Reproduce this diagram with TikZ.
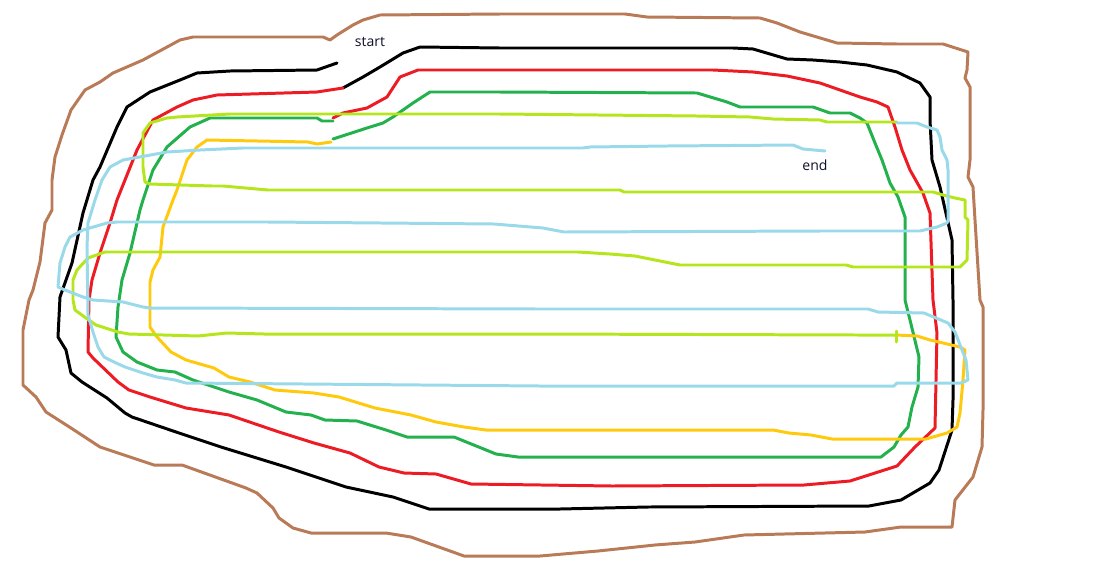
\documentclass[tikz,border=0pt]{standalone}
\usepackage{fontspec}
\setmainfont{Open Sans}
\definecolor{cbrown}{HTML}{B97A57}
\definecolor{cred}{HTML}{ED1C24}
\definecolor{cgreen}{HTML}{22B14C}
\definecolor{cyellow}{HTML}{FFC90E}
\definecolor{clime}{HTML}{B5E61D}
\definecolor{cblue}{HTML}{99D9EA}
\definecolor{ctext}{HTML}{10102A}
\tikzset{
  stroke/.style={line width=1.7pt, line join=round, line cap=round},
  lbl/.style={font=\fontsize{8}{9}\selectfont, text=ctext, inner sep=0pt}
}
\begin{document}
\begin{tikzpicture}[x=0.02cm, y=-0.02cm]
\useasboundingbox (0,0) rectangle (1106,572);
% brown outer loop
\draw[stroke, cbrown] (330,40) -- (337,35) -- (353,25) -- (363,20) -- (380,15) -- (500,14) -- (625,14) -- (647,17) -- (760,18) -- (777,23) -- (800,32) -- (837,43) -- (897,44) -- (943,44) -- (968,52) -- (967,70) -- (965,78) -- (970,87) -- (970,160) -- (968,177) -- (973,187) -- (975,220) -- (980,300) -- (983,307) -- (983,410) -- (982,447) -- (973,477) -- (955,500) -- (952,527) -- (901,527) -- (865,532) -- (744,535) -- (695,542) -- (655,545) -- (598,551) -- (540,556) -- (464,556) -- (411,537) -- (386,533) -- (311,533) -- (293,528) -- (279,518) -- (273,508) -- (257,493) -- (246,488) -- (182,465) -- (154,465) -- (100,447) -- (71,428) -- (46,412) -- (36,397) -- (23,385) -- (23,330) -- (27,310) -- (29,300) -- (33,290) -- (40,262) -- (45,223) -- (52,210) -- (52,180) -- (55,157) -- (62,135) -- (71,110) -- (85,90) -- (100,82) -- (113,73) -- (143,60) -- (180,40) -- (193,37) -- (323,37) -- cycle;
% black
\draw[stroke, black] (337,63) -- (317,70) -- (230,71) -- (197,73) -- (180,80) -- (150,92) -- (127,107) -- (117,127) -- (100,167) -- (93,180) -- (83,213) -- (72,263) -- (60,297) -- (58,337) -- (66,350) -- (71,373) -- (82,382) -- (107,398) -- (125,413) -- (132,417) -- (179,433) -- (221,447) -- (286,467) -- (346,487) -- (393,497) -- (429,509) -- (560,509) -- (648,507) -- (869,506) -- (901,500) -- (930,483) -- (939,470) -- (952,430) -- (953,400) -- (953,300) -- (952,240) -- (940,187) -- (932,160) -- (930,120) -- (930,97) -- (920,83) -- (897,72) -- (867,65) -- (840,62) -- (813,60) -- (787,59) -- (753,49) -- (733,48) -- (500,48) -- (420,47) -- (403,53) -- (380,67) -- (363,77) -- (343,88);
% red
\draw[stroke, cred] (343,88) -- (317,92) -- (217,95) -- (193,100) -- (177,107) -- (153,120) -- (137,150) -- (117,200) -- (110,223) -- (100,253) -- (92,280) -- (89,300) -- (88,352) -- (93,358) -- (118,382) -- (129,390) -- (150,397) -- (186,408) -- (229,415) -- (279,432) -- (314,443) -- (350,453) -- (379,467) -- (404,473) -- (436,474) -- (471,484) -- (612,486) -- (804,485) -- (850,481) -- (897,466) -- (915,447) -- (935,428) -- (937,333) -- (933,300) -- (930,213) -- (923,193) -- (910,170) -- (902,150) -- (895,127) -- (888,107) -- (877,102) -- (860,97) -- (820,83) -- (787,76) -- (753,72) -- (713,70) -- (500,70) -- (418,70) -- (400,77) -- (387,97) -- (367,108) -- (343,113) -- (333,118);
% green
\draw[stroke, cgreen] (333,121) -- (322,121) -- (317,118) -- (210,118) -- (190,127) -- (167,147) -- (153,170) -- (143,200) -- (140,210) -- (130,253) -- (122,280) -- (118,307) -- (116,337) -- (123,352) -- (137,362) -- (157,370) -- (175,372) -- (193,380) -- (229,392) -- (257,400) -- (286,412) -- (311,415) -- (325,420) -- (357,421) -- (386,430) -- (407,437) -- (454,437) -- (496,454) -- (518,457) -- (881,457) -- (894,447) -- (901,435) -- (908,427) -- (912,407) -- (918,387) -- (919,357) -- (910,320) -- (905,300) -- (905,217) -- (898,197) -- (890,183) -- (882,160) -- (875,143) -- (867,123) -- (860,118) -- (850,113) -- (830,113) -- (813,107) -- (740,107) -- (727,102) -- (697,93) -- (500,92) -- (430,92) -- (413,103) -- (393,117) -- (383,123) -- (367,128) -- (333,139);
% yellow
\draw[stroke, cyellow] (331,142) -- (317,144) -- (308,142) -- (207,140) -- (197,147) -- (187,160) -- (177,190) -- (173,200) -- (163,227) -- (160,257) -- (153,270) -- (150,282) -- (150,327) -- (157,337) -- (171,352) -- (186,360) -- (214,368) -- (229,377) -- (250,382) -- (275,390) -- (314,393) -- (339,397) -- (375,408) -- (411,415) -- (436,422) -- (464,427) -- (486,430) -- (773,430) -- (789,433) -- (811,435) -- (832,439) -- (926,439) -- (947,433) -- (957,427) -- (960,413) -- (963,380) -- (965,350) -- (960,347) -- (943,343) -- (930,340) -- (917,336) -- (896,335);
% light green
\draw[stroke, clime] (896,335) -- (858,335) -- (540,334) -- (264,334) -- (227,333) -- (198,336) -- (129,334) -- (118,332) -- (96,325) -- (86,318) -- (75,310) -- (73,300) -- (73,280) -- (77,270) -- (88,258) -- (105,252) -- (578,252) -- (610,254) -- (635,256) -- (680,265) -- (846,265) -- (853,267) -- (960,267) -- (967,260) -- (968,220) -- (965,217) -- (965,200) -- (955,198) -- (943,195) -- (933,192) -- (846,192) -- (624,192) -- (620,190) -- (268,190) -- (223,186) -- (212,186) -- (150,184) -- (145,182) -- (143,167) -- (143,133) -- (150,123) -- (167,118) -- (177,117) -- (230,114) -- (500,114) -- (697,116) -- (750,117) -- (773,119) -- (820,120) -- (827,122) -- (897,122);
\draw[stroke, clime] (896,331) -- (896,342);
% light blue
\draw[stroke, cblue] (897,123) -- (917,123) -- (927,127) -- (937,130) -- (940,137) -- (942,150) -- (947,160) -- (948,170) -- (948,220) -- (947,223) -- (937,227) -- (920,231) -- (820,231) -- (564,232) -- (543,228) -- (494,224) -- (268,222) -- (117,222) -- (107,223) -- (83,230) -- (70,237) -- (65,247) -- (60,263) -- (58,287) -- (65,290) -- (83,297) -- (93,300) -- (123,302) -- (143,307) -- (150,308) -- (540,309) -- (868,309) -- (878,312) -- (924,313) -- (948,323) -- (955,332) -- (962,350) -- (966,360) -- (968,380) -- (961,383) -- (897,383) -- (894,386) -- (540,386) -- (186,383) -- (175,380) -- (157,377) -- (143,373) -- (125,367) -- (114,362) -- (104,357) -- (98,347) -- (93,332) -- (88,315) -- (87,247) -- (88,223) -- (95,200) -- (102,180) -- (110,167) -- (123,160) -- (167,152) -- (200,150) -- (243,148) -- (583,148) -- (590,147) -- (667,146) -- (793,145) -- (803,149) -- (825,151);
% labels
\node[lbl] (start) at (370,42) {start};
\node[lbl] (end) at (815,165) {end};
\end{tikzpicture}
\end{document}
